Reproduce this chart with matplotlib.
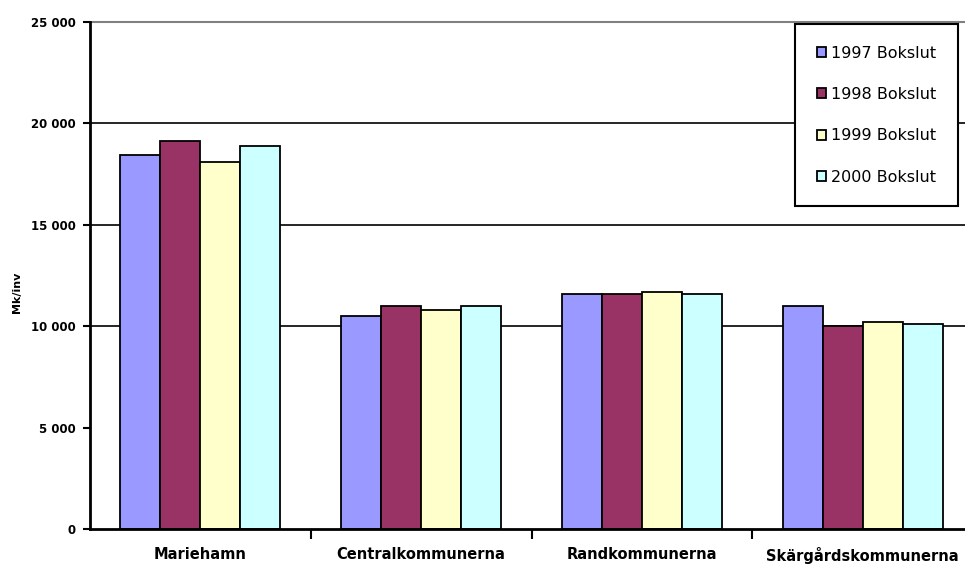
import matplotlib.pyplot as plt
import numpy as np

# kommungrupper och bokslut per år (mk/invånare)
kommuner = ['Mariehamn', 'Centralkommunerna', 'Randkommunerna', 'Skärgårdskommunerna']
ar_labels = ['1997 Bokslut', '1998 Bokslut', '1999 Bokslut', '2000 Bokslut']
bok_1997 = [18430, 10520, 11600, 11000]
bok_1998 = [19110, 10980, 11600, 10020]
bok_1999 = [18120, 10810, 11670, 10220]
bok_2000 = [18910, 10980, 11580, 10120]
y_ticks = [0, 5000, 10000, 15000, 20000, 25000]
y_ticklabels = ['0', '5 000', '10 000', '15 000', '20 000', '25 000']

farger = ['#9999FF', '#993366', '#FFFFCC', '#CCFFFF']

W, H = 965, 567
fig = plt.figure(figsize=(W / 100, H / 100), dpi=100)
ax = fig.add_axes([90 / W, 38 / H, 883 / W, 507 / H])

x = np.arange(len(kommuner))
bw = 0.181
serier = [bok_1997, bok_1998, bok_1999, bok_2000]
for i, (vals, c, lab) in enumerate(zip(serier, farger, ar_labels)):
    ax.bar(x + (i - 1.5) * bw, vals, bw, color=c, edgecolor='black',
           linewidth=1.3, label=lab, zorder=3)

ax.set_xlim(-0.5, len(kommuner) - 0.5)
ax.set_ylim(0, 25000)

# stödlinjer
for t in [10000, 15000, 20000]:
    ax.axhline(t, color='black', linewidth=1.2, zorder=1)
ax.axhline(25000, color='#808080', linewidth=1.5, zorder=1, clip_on=False)

for s in ['top', 'right']:
    ax.spines[s].set_visible(False)
for s in ['left', 'bottom']:
    ax.spines[s].set_linewidth(2)
    ax.spines[s].set_zorder(4)

ax.set_yticks(y_ticks)
ax.set_yticklabels(y_ticklabels, fontsize=8.5, fontweight='bold')
ax.tick_params(axis='y', length=5, width=1.5, pad=5)

ax.set_xticks(x)
ax.set_xticklabels(kommuner, fontsize=10.5, fontweight='bold')
ax.tick_params(axis='x', length=0, pad=13)
ax.set_xticks(np.arange(len(kommuner)) + 0.5, minor=True)
ax.tick_params(axis='x', which='minor', length=7, width=1.5)

fig.text(17 / W, 1 - 292 / H, 'Mk/inv', rotation=90, fontsize=8,
         fontweight='bold', ha='center', va='center')

leg = fig.legend(loc='upper left', bbox_to_anchor=(795 / W, 1 - 24 / H),
                 fontsize=11.5, labelspacing=1.65, handlelength=0.6,
                 handleheight=0.6, handletextpad=0.3, borderpad=1.35,
                 borderaxespad=0, fancybox=False, framealpha=1,
                 edgecolor='black')
leg.get_frame().set_linewidth(1.5)

fig.savefig('out.png', dpi=100)
